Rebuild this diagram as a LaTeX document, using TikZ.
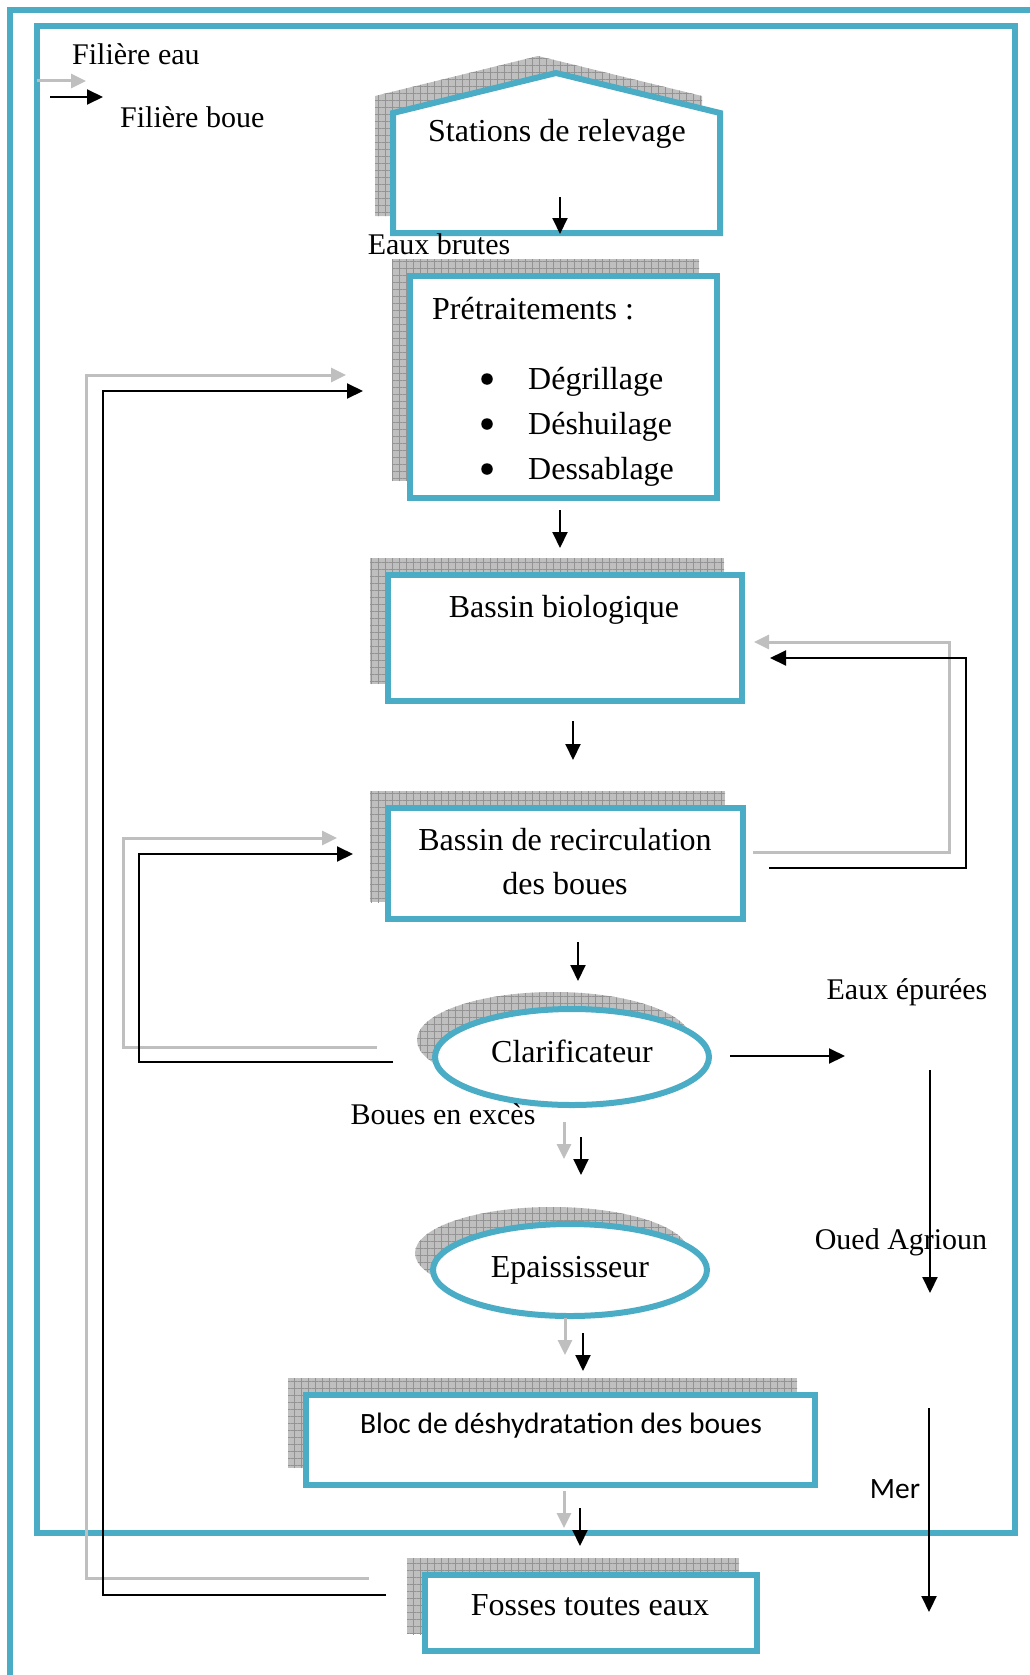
\documentclass[tikz,border=0pt]{standalone}
\usepackage{fontspec}
\setmainfont{Liberation Serif}
\newfontfamily\calfont{Carlito}
\usetikzlibrary{arrows.meta,shapes.geometric,shadows,patterns.meta}
\definecolor{frameblue}{HTML}{4BACC6}
\definecolor{gridgray}{HTML}{BFBFBF}

\tikzset{
  frame/.style={draw=frameblue,line width=6pt},
  shadowfill/.style={fill=gridgray,postaction={pattern={Hatch[angle=0,distance=7pt,line width=.5pt]},pattern color=gray!85}},
  box/.style={draw=frameblue,line width=6pt,fill=white,inner sep=0pt,
    general shadow={shadow xshift=-18pt,shadow yshift=17pt,fill=gridgray},
    general shadow={shadow xshift=-18pt,shadow yshift=17pt,pattern={Hatch[angle=0,distance=7pt,line width=.5pt]},pattern color=gray!85}},
  housebox/.style={draw=frameblue,line width=6pt,fill=white},
  ttl/.style={font=\fontsize{32}{44}\selectfont,inner sep=0pt},
  lbl/.style={font=\fontsize{30}{36}\selectfont,inner sep=0pt},
  sanslbl/.style={font=\calfont\fontsize{29.5}{35}\selectfont,inner sep=0pt},
  puce/.style={circle,fill=black,inner sep=0pt,minimum size=11.5pt},
  flow/.style={-{Triangle[length=16pt,width=15pt]},line width=2pt},
  flowgray/.style={-{Triangle[length=15pt,width=14pt]},line width=3pt,draw=gray!50},
}

\begin{document}
\begin{tikzpicture}[x=1pt,y=-1pt]
  \useasboundingbox (0,0) rectangle (1029,1675);
  % cadres
  \draw[frame] (10,10) rectangle (1060,1700);
  \draw[frame] (37,26) rectangle (1015,1533);

  % legende
  \coordinate (leg-e1) at (37,81);
  \coordinate (leg-e2) at (86,81);
  \coordinate (leg-b1) at (50,97);
  \coordinate (leg-b2) at (103,97);
  \draw[flowgray] (leg-e1) -- (leg-e2);
  \draw[flow] (leg-b1) -- (leg-b2);
  \node[lbl,anchor=west] (leg-eau) at (72,54) {Filière eau};
  \node[lbl,anchor=west] (leg-boue) at (120,117) {Filière boue};

  % stations de relevage
  \path[shadowfill] (375,96) -- (538,56) -- (702,96) -- (702,216) -- (375,216) -- cycle;
  \path[housebox] (393,113) -- (556,73) -- (720,113) -- (720,233) -- (393,233) -- cycle;
  \node[ttl] (sta) at (557,134) {Stations de relevage};
  \coordinate (sta-in) at (560,197);
  \coordinate (sta-out) at (560,234);
  \draw[flow] (sta-in) -- (sta-out);
  \node[lbl] (brutes) at (439,244) {Eaux brutes};

  % blocs
  \node[box,minimum width=307pt,minimum height=222pt] (pre) at (563.5,387) {};
  \node[box,minimum width=354pt,minimum height=126pt] (bio) at (565,638) {};
  \node[box,minimum width=355pt,minimum height=111pt] (rec) at (565.5,863.5) {};
  \node[box,ellipse,minimum width=274pt,minimum height=96pt,text depth=12pt,font=\fontsize{32}{38}\selectfont] (cla) at (572,1057) {Clarificateur};
  \node[box,ellipse,minimum width=274pt,minimum height=92pt,font=\fontsize{32}{38}\selectfont] (epa) at (570,1270) {Epaississeur};
  \node[box,minimum width=509pt,minimum height=90pt] (deh) at (560.5,1440) {};
  \node[box,minimum width=332pt,minimum height=76pt] (fos) at (591,1613) {};

  % textes des blocs
  \node[ttl,anchor=west] (pre-t) at (432,309) {Prétraitements :};
  \foreach \nm [count=\i] in {Dégrillage,Déshuilage,Dessablage} {
    \node[puce] (bul\i) at (487,334+45*\i) {};
    \node[ttl,anchor=west] (op\i) at (528,337+45*\i) {\nm};
  }
  \node[ttl] (bio-t) at (564,610) {Bassin biologique};
  \node[ttl,align=center] (rec-t) at (565,862) {Bassin de recirculation\\des boues};
  \node[sanslbl] (deh-t) at (561,1426) {Bloc de déshydratation des boues};
  \node[ttl] (fos-t) at (590,1605) {Fosses toutes eaux};

  % fleches verticales
  \coordinate (a1) at (560,510);  \coordinate (a2) at (560,548);
  \coordinate (b1) at (573,721);  \coordinate (b2) at (573,760);
  \coordinate (c1) at (578,942);  \coordinate (c2) at (578,981);
  \draw[flow] (a1) -- (a2);
  \draw[flow] (b1) -- (b2);
  \draw[flow] (c1) -- (c2);
  \foreach \gx/\gy/\bx/\by in {564/1122/581/1137, 565/1318/583/1333, 564/1491/580/1508} {
    \draw[flowgray] (\gx,\gy) -- ++(0,37);
    \draw[flow] (\bx,\by) -- ++(0,38);
  }
  \node[lbl] (exces) at (443,1114) {Boues en excès};

  % retour vers les pretraitements
  \coordinate (fos-g) at (369,1578);
  \coordinate (pre-g) at (346,375);
  \coordinate (fos-b) at (386,1595);
  \coordinate (pre-b) at (363,391);
  \draw[flowgray] (fos-g) -| (86,375) -- (pre-g);
  \draw[flow] (fos-b) -| (103,391) -- (pre-b);

  % retour vers la recirculation
  \coordinate (cla-g) at (377,1047);
  \coordinate (rec-g) at (337,838);
  \coordinate (cla-b) at (393,1062);
  \coordinate (rec-b) at (353,854);
  \draw[flowgray] (cla-g) -| (123,838) -- (rec-g);
  \draw[flow] (cla-b) -| (139,854) -- (rec-b);

  % retour vers le bassin biologique
  \coordinate (rec-g2) at (753,852);
  \coordinate (bio-g) at (754,642);
  \coordinate (rec-b2) at (769,868);
  \coordinate (bio-b) at (770,658);
  \draw[flowgray] (rec-g2) -| (949,642) -- (bio-g);
  \draw[flow] (rec-b2) -| (966,658) -- (bio-b);

  % sorties
  \coordinate (ep1) at (730,1056);
  \coordinate (ep2) at (845,1056);
  \draw[flow] (ep1) -- (ep2);
  \node[lbl] (epur) at (907,992) {Eaux épurées};
  \node[lbl] (oued) at (901,1242) {Oued Agrioun};
  \coordinate (ou1) at (930,1070);
  \coordinate (ou2) at (930,1293);
  \draw[flow] (ou1) -- (ou2);
  \node[sanslbl] (mer) at (895,1489) {Mer};
  \coordinate (me1) at (929,1408);
  \coordinate (me2) at (929,1612);
  \draw[flow] (me1) -- (me2);
\end{tikzpicture}
\end{document}
